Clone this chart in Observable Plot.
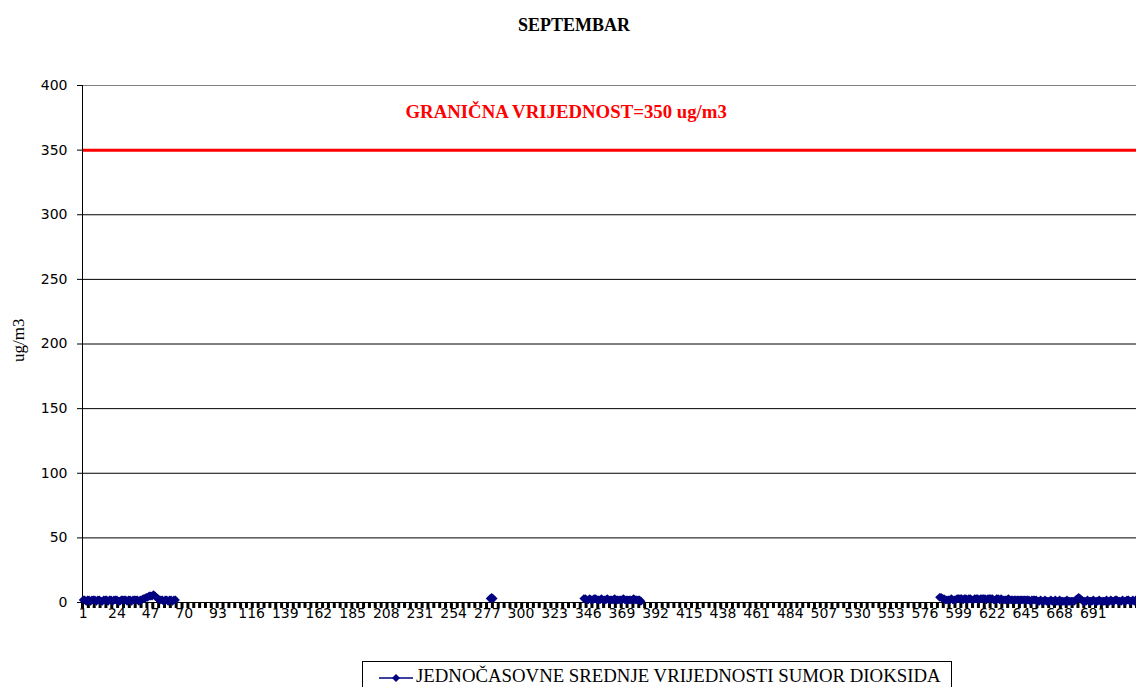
<!DOCTYPE html>
<html><head><meta charset="utf-8">
<script src="https://cdn.jsdelivr.net/npm/d3@7"></script>
<script src="https://cdn.jsdelivr.net/npm/@observablehq/plot@0.6"></script>
<style>
body{margin:0;background:#fff;}
#wrap{position:relative;width:1136px;height:687px;overflow:hidden;background:#fff}
#title{position:absolute;top:15px;left:0;width:1148px;text-align:center;font-family:"Liberation Serif",serif;font-weight:bold;font-size:18px;color:#000}
#chart{position:absolute;top:50px;left:0}
#legend{position:absolute;left:362px;top:661px;width:590px;height:34px;border:1px solid #000;box-sizing:border-box;font-family:"Liberation Serif",serif;font-size:18.8px;color:#000;padding:3px 0 0 16px;white-space:nowrap}
#legend svg{vertical-align:middle;margin-right:3px}
</style>
</head><body>
<div id="wrap">
  <div id="title"></div>
  <div id="chart"></div>
  <div id="legend"></div>
</div>
<script>
const chartTitle = "SEPTEMBAR";
const seriesName = "JEDNOČASOVNE SREDNJE VRIJEDNOSTI SUMOR DIOKSIDA";
const yLabel = "ug/m3";
const limit = 350;
const limitLabel = "GRANIČNA VRIJEDNOST=350 ug/m3";
const yTicks = [0, 50, 100, 150, 200, 250, 300, 350, 400];
const xLabelHours = [1,24,47,70,93,116,139,162,185,208,231,254,277,300,323,346,369,392,415,438,461,484,507,530,553,576,599,622,645,668,691];
const hourDomain = [0.5, 720.5];

// measured segments (hours with data)
const segAStart = 1;
const segA = [2,2,1,2,2,1,2,2,2,1, 2,2,1,1,2,2,2,1,2,2, 1,2,2,2,1,1,2,2,2,2, 1,2,2,1,2,2,2,2,1,2,
              2,3,3,4,4,5,5,5,6,5,4,3,2,2,2,1,
              2,2,1,2,2,1,2,2];
const segBStart = 279;
const segB = [3,4,3];
const segCStart = 343;
const segC = [3,3,2,2,3,2,2,3,3,2, 2,2,3,2,2,2,3,2,2,2, 2,3,2,2,2,2,2,3,2,2, 2,2,2,2,3,2,2,2,2,1];
const segDStart = 586;
const segD = [4,4,3,3,2,2,2,2,3,2,2,2,3,3,3,
              3,2,3,3,2,3,3,2,2,3,3,3,2,3,3,3,3,2,3,3,
              3,3,2,2,3,3,2,3,2,2,2,2,3,2,2,2,2,2,2,2,
              2,2,2,2,2,2,2,1,2,2,2,2,1,1,2,1,1,2,1,1,
              1,2,1,1,2,1,1,2,1,1,1,1,2,1,1,1,1,1,2,3,
              4,3,2,1,1,1,2,1,1,1,2,1,1,1,2,1,1,1,1,2,
              1,1,2,1,1,2,2,1,1,1,2,1,1,2,2,1,1,2,1,2];

const rows = [];
[[segAStart, segA, "A"], [segBStart, segB, "B"], [segCStart, segC, "C"], [segDStart, segD, "D"]]
  .forEach(([s, vals, id]) => vals.forEach((v, i) => rows.push({hour: s + i, value: v, seg: id})));

const tickMarks = d3.range(hourDomain[0], hourDomain[1] + 0.01, 4);

document.getElementById("title").textContent = chartTitle;

const navy = "#000080";
const chart = Plot.plot({
  width: 1136, height: 582,
  marginTop: 35, marginBottom: 30, marginLeft: 82, marginRight: 0,
  x: {domain: hourDomain},
  y: {domain: [0, 400]},
  style: {fontFamily: "DejaVu Sans", fontSize: "14px", color: "#000", background: "#fff", overflow: "visible"},
  marks: [
    Plot.ruleY(yTicks.filter(d => d > 0 && d < 400), {stroke: "#000", strokeWidth: 1}),
    Plot.ruleY([400], {stroke: "#808080", strokeWidth: 1}),
    Plot.ruleY([limit], {stroke: "#ff0000", strokeWidth: 3}),
    Plot.axisY({ticks: yTicks, tickSize: 5, tickPadding: 10, label: null, stroke: "#000"}),
    Plot.ruleX([hourDomain[0]], {stroke: "#000", strokeWidth: 1}),
    Plot.axisX({ticks: tickMarks, tickSize: 6, tickFormat: () => "", strokeWidth: 3, label: null}),
    Plot.axisX({ticks: xLabelHours, tickSize: 0, tickPadding: 6, tickFormat: d => String(d), label: null}),
    Plot.ruleY([0], {stroke: "#000", strokeWidth: 1}),
    Plot.line(rows, {x: "hour", y: "value", z: "seg", stroke: navy, strokeWidth: 2}),
    Plot.dot(rows, {x: "hour", y: "value", symbol: "diamond2", r: 4, fill: navy, stroke: "none"}),
    Plot.text([limitLabel], {frameAnchor: "top-left", dx: 323, dy: 19, textAnchor: "start", fill: "#ff0000", fontWeight: "bold", fontFamily: "Liberation Serif", fontSize: 18.8}),
    Plot.text([yLabel], {frameAnchor: "left", rotate: -90, dx: -64, dy: 18, fontFamily: "Liberation Serif", fontSize: 17, fill: "#000"})
  ]
});
document.getElementById("chart").appendChild(chart);

const lg = document.getElementById("legend");
lg.innerHTML = `<svg width="34" height="12"><line x1="0" x2="34" y1="6" y2="6" stroke="${navy}" stroke-width="1.5"/><polygon points="17,2 21,6 17,10 13,6" fill="${navy}"/></svg>`;
lg.appendChild(document.createTextNode(seriesName));
</script>
</body></html>
